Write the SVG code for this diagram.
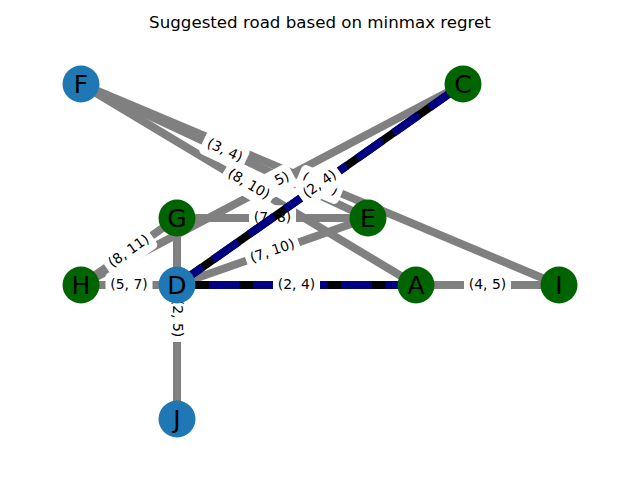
<svg xmlns="http://www.w3.org/2000/svg" width="640" height="480" viewBox="0 0 640 480">
<style>
.e{stroke:#808080;stroke-width:8;fill:none}
.pb{stroke:#000000;stroke-width:8;fill:none}
.pd{stroke:#000080;stroke-width:8;fill:none;stroke-dasharray:30.8 13.3}
.lb{fill:#ffffff;stroke:#ffffff;stroke-width:1}
.lt{font-family:"DejaVu Sans",sans-serif;font-size:13.9px;fill:#000;text-anchor:middle}
.nt{font-family:"DejaVu Sans",sans-serif;font-size:25px;fill:#000;text-anchor:middle}
.blue{fill:#1f77b4}
.green{fill:#006400}
</style>
<rect width="640" height="480" fill="#ffffff"/>
<text x="320" y="28" font-family="DejaVu Sans, sans-serif" font-size="16.67px" text-anchor="middle" fill="#000">Suggested road based on minmax regret</text>
<g id="connectors">
<line class="e" x1="81" y1="84" x2="368" y2="218"/>
<line class="e" x1="81" y1="84" x2="416" y2="285"/>
<line class="e" x1="81" y1="84" x2="559" y2="285"/>
<line class="e" x1="463" y1="84" x2="81" y2="285"/>
<line class="e" x1="81" y1="285" x2="177" y2="218"/>
<line class="e" x1="177" y1="218" x2="368" y2="218"/>
<line class="e" x1="81" y1="285" x2="177" y2="285"/>
<line class="e" x1="177" y1="285" x2="368" y2="218"/>
<line class="e" x1="177" y1="218" x2="177" y2="419"/>
<line class="e" x1="416" y1="285" x2="559" y2="285"/>
<g id="label-FI" transform="translate(320,184.5) rotate(22.81)"><rect class="lb" x="-23" y="-12.2" width="46" height="24.4" rx="4.2"/><text class="lt" y="3.8">(1, 4)</text></g>
<g id="label-CH" transform="translate(272,184.5) rotate(-27.76)"><rect class="lb" x="-23" y="-12.2" width="46" height="24.4" rx="4.2"/><text class="lt" y="3.8">(3, 5)</text></g>
<g id="label-FE" transform="translate(224.5,151) rotate(25.03)"><rect class="lb" x="-23" y="-12.2" width="46" height="24.4" rx="4.2"/><text class="lt" y="3.8">(3, 4)</text></g>
<g id="label-FA" transform="translate(248.5,184.5) rotate(30.96)"><rect class="lb" x="-27.3" y="-12.2" width="54.6" height="24.4" rx="4.2"/><text class="lt" y="3.8">(8, 10)</text></g>
<g id="label-HG" transform="translate(129,251.5) rotate(-34.91)"><rect class="lb" x="-27.3" y="-12.2" width="54.6" height="24.4" rx="4.2"/><text class="lt" y="3.8">(8, 11)</text></g>
<g id="label-GE" transform="translate(272.5,218)"><rect class="lb" x="-23" y="-12.2" width="46" height="24.4" rx="4.2"/><text class="lt" y="3.8">(7, 8)</text></g>
<g id="label-HD" transform="translate(129,285)"><rect class="lb" x="-23" y="-12.2" width="46" height="24.4" rx="4.2"/><text class="lt" y="3.8">(5, 7)</text></g>
<g id="label-DE" transform="translate(272.5,251.5) rotate(-19.33)"><rect class="lb" x="-27.3" y="-12.2" width="54.6" height="24.4" rx="4.2"/><text class="lt" y="3.8">(7, 10)</text></g>
<g id="label-GJ" transform="translate(177,318.5) rotate(90)"><rect class="lb" x="-23" y="-12.2" width="46" height="24.4" rx="4.2"/><text class="lt" y="3.8">(2, 5)</text></g>
<g id="label-AI" transform="translate(487.5,285)"><rect class="lb" x="-23" y="-12.2" width="46" height="24.4" rx="4.2"/><text class="lt" y="3.8">(4, 5)</text></g>
<line class="pb" x1="416" y1="285" x2="177" y2="285"/>
<line class="pd" x1="416" y1="285" x2="177" y2="285"/>
<line class="pb" x1="177" y1="285" x2="463" y2="84"/>
<line class="pd" x1="177" y1="285" x2="463" y2="84"/>
<g id="label-CD" transform="translate(320,184.5) rotate(-35.1)"><rect class="lb" x="-23" y="-12.2" width="46" height="24.4" rx="4.2"/><text class="lt" y="3.8">(2, 4)</text></g>
<g id="label-DA" transform="translate(296.5,285)"><rect class="lb" x="-23" y="-12.2" width="46" height="24.4" rx="4.2"/><text class="lt" y="3.8">(2, 4)</text></g>
</g>
<g id="node-F"><circle class="blue" cx="81" cy="84" r="18.5"/><text class="nt" x="81" y="93.1">F</text></g>
<g id="node-C"><circle class="green" cx="463" cy="84" r="18.5"/><text class="nt" x="463" y="93.1">C</text></g>
<g id="node-G"><circle class="green" cx="177" cy="218" r="18.5"/><text class="nt" x="177" y="227.1">G</text></g>
<g id="node-E"><circle class="green" cx="368" cy="218" r="18.5"/><text class="nt" x="368" y="227.1">E</text></g>
<g id="node-H"><circle class="green" cx="81" cy="285" r="18.5"/><text class="nt" x="81" y="294.1">H</text></g>
<g id="node-D"><circle class="blue" cx="177" cy="285" r="18.5"/><text class="nt" x="177" y="294.1">D</text></g>
<g id="node-A"><circle class="green" cx="416" cy="285" r="18.5"/><text class="nt" x="416" y="294.1">A</text></g>
<g id="node-I"><circle class="green" cx="559" cy="285" r="18.5"/><text class="nt" x="559" y="294.1">I</text></g>
<g id="node-J"><circle class="blue" cx="177" cy="419" r="18.5"/><text class="nt" x="177" y="428.1">J</text></g>
</svg>
